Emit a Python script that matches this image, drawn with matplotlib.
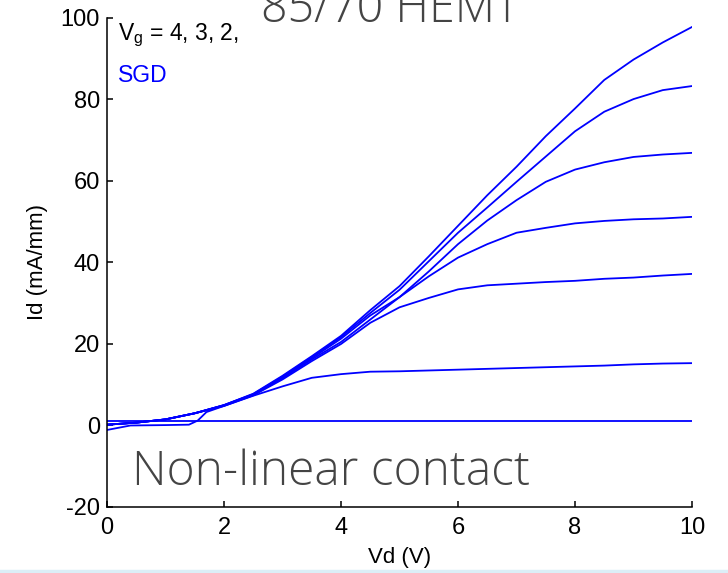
import matplotlib.pyplot as plt
from matplotlib.lines import Line2D

# gate voltage curves
vd = [0, 0.5, 1, 1.5, 2, 2.5, 3, 3.5, 4, 4.5, 5, 5.5, 6, 6.5, 7, 7.5, 8, 8.5, 9, 9.5, 10]

id_vg4 = [0.2, 0.7, 1.5, 3.0, 5.0, 7.8, 12.2, 17.0, 22.0, 28.3, 34.2, 41.5, 49.0, 56.5, 63.5, 71.0, 77.8, 84.8, 89.8, 94.0, 97.8]
id_vg3 = [0.2, 0.7, 1.5, 3.0, 5.0, 7.7, 12.0, 16.8, 21.7, 27.6, 33.3, 40.3, 47.3, 53.5, 59.8, 66.0, 72.2, 77.0, 80.1, 82.3, 83.3]
id_vg2 = [0.2, 0.7, 1.5, 3.0, 5.0, 7.6, 11.8, 16.5, 21.3, 27.0, 31.5, 37.8, 44.5, 50.3, 55.3, 59.8, 62.8, 64.6, 65.9, 66.5, 66.9]
id_vg1 = [0.2, 0.7, 1.5, 3.0, 4.9, 7.5, 11.6, 16.2, 20.5, 26.0, 31.5, 36.6, 41.2, 44.5, 47.3, 48.5, 49.6, 50.2, 50.6, 50.8, 51.2]
id_vg0 = [0.2, 0.7, 1.5, 3.0, 4.8, 7.4, 11.3, 15.8, 20.0, 25.2, 29.0, 31.3, 33.4, 34.4, 34.8, 35.2, 35.5, 36.0, 36.3, 36.8, 37.2]

vd_m1 = [0, 0.4, 1.0, 1.4, 1.55, 1.7, 2, 2.5, 3, 3.5, 4, 4.5, 5, 5.5, 6, 6.5, 7, 7.5, 8, 8.5, 9, 9.5, 10]
id_vgm1 = [-1.1, 0.0, 0.1, 0.2, 1.2, 3.3, 4.8, 7.3, 9.6, 11.7, 12.6, 13.2, 13.3, 13.5, 13.7, 13.9, 14.1, 14.3, 14.5, 14.7, 15.0, 15.2, 15.3]

vd_off = [0, 10]
id_off = [1.0, 1.0]

curves = [(vd, id_vg4), (vd, id_vg3), (vd, id_vg2), (vd, id_vg1), (vd, id_vg0),
          (vd_m1, id_vgm1), (vd_off, id_off)]

plt.rcParams["font.family"] = ["Liberation Sans", "DejaVu Sans"]
plt.rcParams["axes.unicode_minus"] = False

fig = plt.figure(figsize=(7.28, 5.73), dpi=100)
ax = fig.add_axes([0.147, 0.1152, 0.8036, 0.8534])

for x, y in curves:
    ax.plot(x, y, color="#0000ff", lw=1.3)

ax.set_xlim(0, 10)
ax.set_ylim(-20, 100)
ax.set_xticks([0, 2, 4, 6, 8, 10])
ax.set_yticks([-20, 0, 20, 40, 60, 80, 100])
ax.spines["top"].set_visible(False)
ax.spines["right"].set_visible(False)
for s in ("left", "bottom"):
    ax.spines[s].set_linewidth(1.1)
ax.tick_params(direction="in", length=4, width=1.1, labelsize=17)
ax.tick_params(axis="y", pad=5)
ax.tick_params(axis="x", pad=7)
ax.set_xlabel("Vd (V)", fontsize=16, labelpad=6)
ax.set_ylabel("Id (mA/mm)", fontsize=16, labelpad=9)

# the title box below hides the end of this line, as in the source
ax.text(0.018, 0.955, r"$\mathregular{V_g}$ = 4, 3, 2, 1, 0, -1, -2",
        transform=ax.transAxes, fontsize=16.5, va="baseline")
ax.text(0.018, 0.87, "SGD", transform=ax.transAxes, fontsize=16.5,
        color="#0000ff", va="baseline")

light = dict(family="Open Sans", weight="light", color="#444444")
ax.text(0.042, 0.044, "Non-linear contact", transform=ax.transAxes,
        va="baseline", fontsize=34.5, **light)

fig.text(0.536, 1 - 22 / 573, "85/70 HEMT", ha="center", va="baseline",
         fontsize=33.5,
         bbox=dict(boxstyle="square,pad=0.5", fc="white", ec="none"), **light)

fig.add_artist(Line2D([0, 1], [0.003, 0.003], transform=fig.transFigure,
                      color="#dceef7", lw=2.5))

fig.savefig("out.png", dpi=100)
